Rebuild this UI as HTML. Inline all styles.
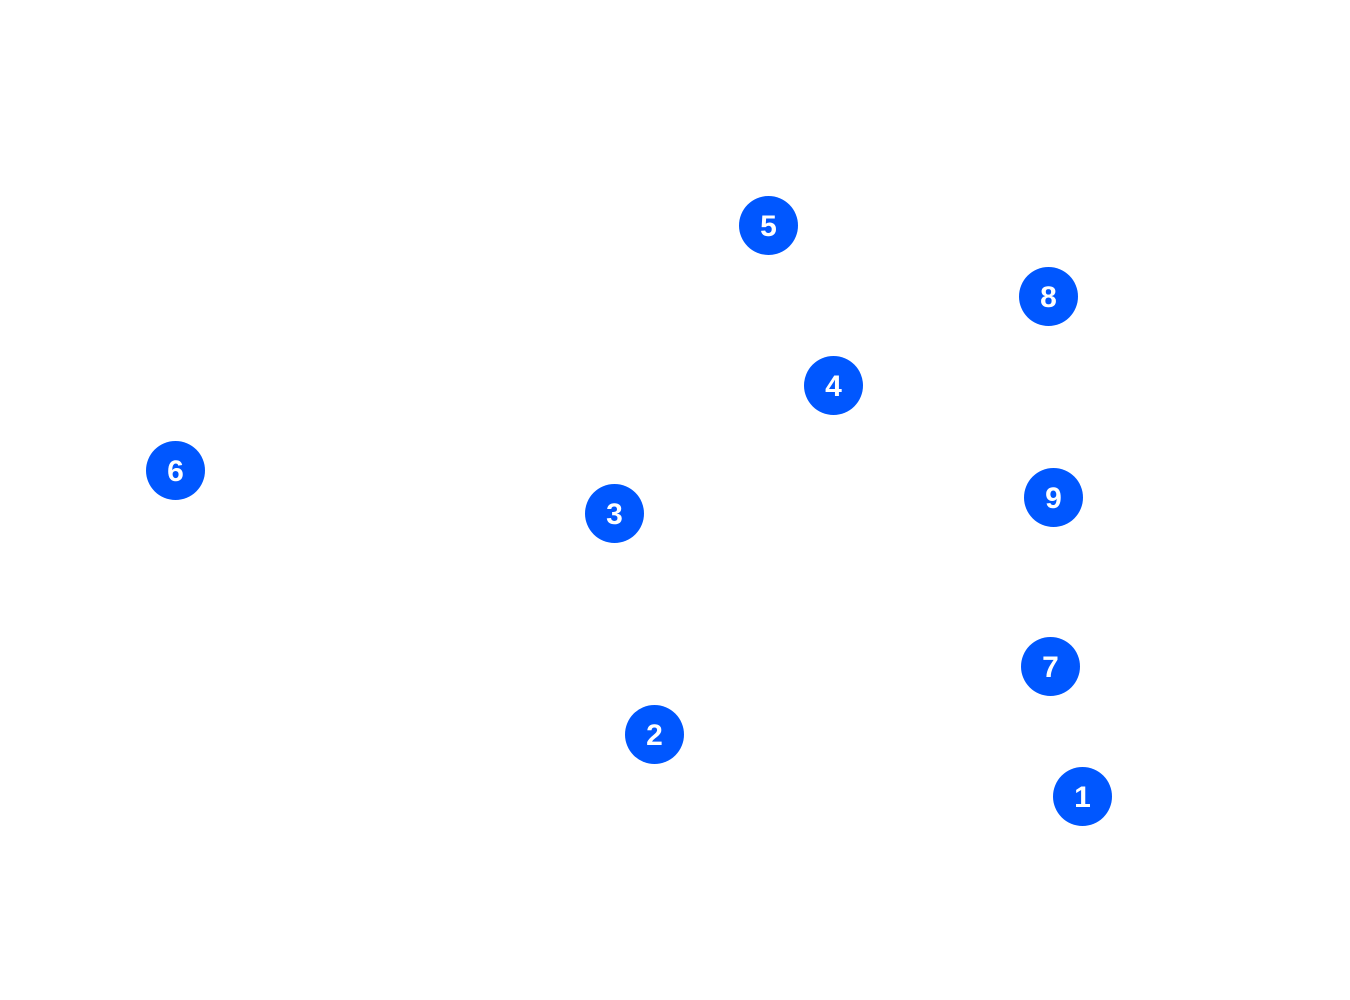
<!DOCTYPE html>
<html><head><meta charset="utf-8"><style>
html,body{margin:0;padding:0;background:#fff;width:1350px;height:1000px;overflow:hidden}
</style></head><body>
<svg width="1350" height="1000" xmlns="http://www.w3.org/2000/svg" font-family="Liberation Sans, sans-serif" font-weight="bold" font-size="30" fill="#fff" text-anchor="middle">
<g fill="#0057ff">
<circle cx="768.5" cy="225.5" r="29.5"/>
<circle cx="1048.5" cy="296.5" r="29.5"/>
<circle cx="833.5" cy="385.5" r="29.5"/>
<circle cx="175.5" cy="470.5" r="29.5"/>
<circle cx="614.5" cy="513.5" r="29.5"/>
<circle cx="1053.5" cy="497.5" r="29.5"/>
<circle cx="1050.5" cy="666.5" r="29.5"/>
<circle cx="654.5" cy="734.5" r="29.5"/>
<circle cx="1082.5" cy="796.5" r="29.5"/>
</g>
<text x="768.5" y="236">5</text>
<text x="1048.5" y="307">8</text>
<text x="833.5" y="396">4</text>
<text x="175.5" y="481">6</text>
<text x="614.5" y="524">3</text>
<text x="1053.5" y="508">9</text>
<text x="1050.5" y="677">7</text>
<text x="654.5" y="745">2</text>
<text x="1082.5" y="807">1</text>
</svg>
</body></html>
